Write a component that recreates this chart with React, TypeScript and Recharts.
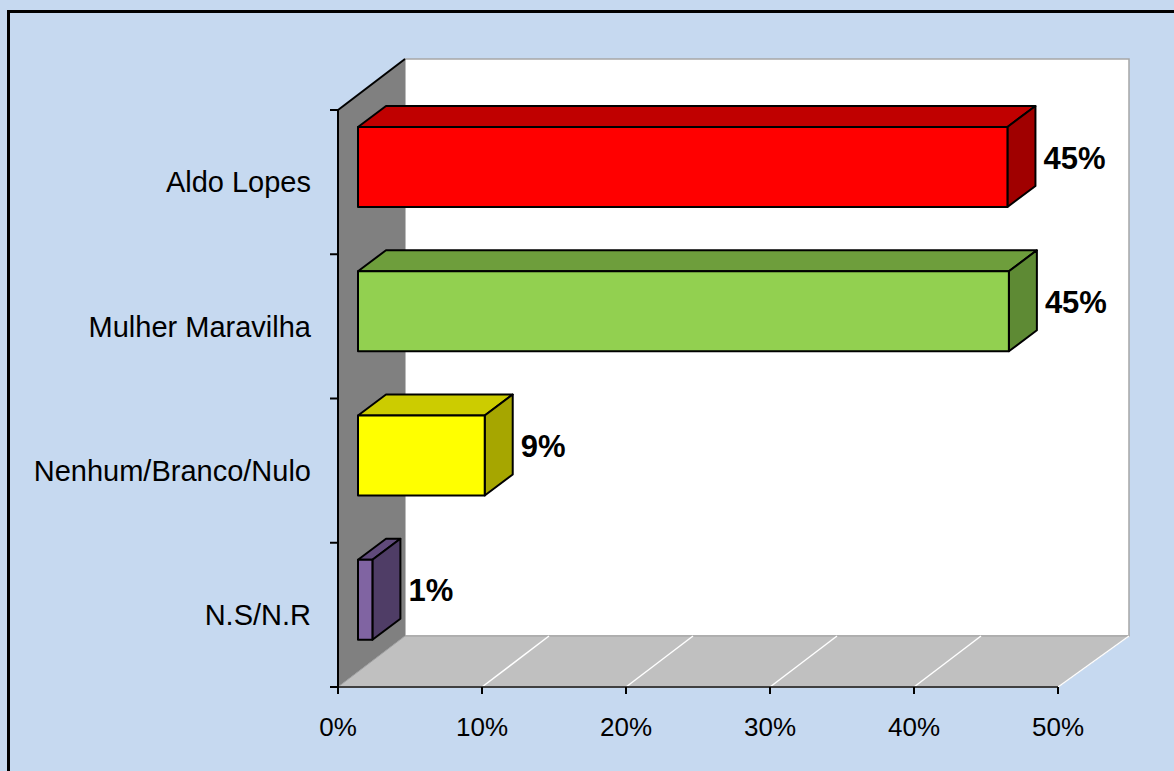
import { BarChart, Bar, XAxis, YAxis, LabelList } from 'recharts'

const categories = ['Aldo Lopes', 'Mulher Maravilha', 'Nenhum/Branco/Nulo', 'N.S/N.R']
const shares = [45.1, 45.2, 8.8, 1.0]
const xTicks = [0, 10, 20, 30, 40, 50]

// front / top / side colours per bar
const faceColors = [
  ['#FF0000', '#C00000', '#A00000'],
  ['#92D050', '#6E9E3C', '#5E8A34'],
  ['#FFFF00', '#CCCC00', '#A6A600'],
  ['#8064A2', '#604A7B', '#4F3D66'],
]

const W = 1174
const H = 771
const PLOT = { left: 338, top: 110, right: 1058, bottom: 687 }
const DEPTH = { dx: 67, dy: -51 } // wall depth
const BAR_FRONT = { dx: 20, dy: -15 }
const BAR_DEPTH = { dx: 28, dy: -21 }
const FONT = '"Liberation Sans", Arial, sans-serif'

const data = categories.map((name, i) => ({ name, value: shares[i] }))

function Box3D(props: any) {
  const { x, y, width, height, index } = props
  const [front, top, side] = faceColors[index % faceColors.length]
  const fx = x + BAR_FRONT.dx
  const fy = y + BAR_FRONT.dy
  const bx = BAR_DEPTH.dx
  const by = BAR_DEPTH.dy
  return (
    <g stroke="#000" strokeWidth={2} strokeLinejoin="round">
      <polygon
        points={`${fx},${fy} ${fx + width},${fy} ${fx + width + bx},${fy + by} ${fx + bx},${fy + by}`}
        fill={top}
      />
      <polygon
        points={`${fx + width},${fy} ${fx + width + bx},${fy + by} ${fx + width + bx},${fy + by + height} ${fx + width},${fy + height}`}
        fill={side}
      />
      <rect x={fx} y={fy} width={width} height={height} fill={front} />
    </g>
  )
}

function ValueLabel(props: any) {
  const { x, y, width, height, value } = props
  const lx = x + BAR_FRONT.dx + width + BAR_DEPTH.dx + 8
  const ly = y + BAR_FRONT.dy + height / 2 - 9
  return (
    <text x={lx} y={ly} fontFamily={FONT} fontWeight="bold" fontSize={31} fill="#000" dominantBaseline="central">
      {`${Math.round(value)}%`}
    </text>
  )
}

function Walls() {
  const { left, top, right, bottom } = PLOT
  const { dx, dy } = DEPTH
  const step = (right - left) / (xTicks.length - 1)
  const band = (bottom - top) / categories.length
  return (
    <svg width={W} height={H} style={{ position: 'absolute', left: 0, top: 0 }}>
      {/* back wall */}
      <rect x={left + dx} y={top + dy} width={right - left + 4} height={bottom - top} fill="#FFFFFF" stroke="#A6A6A6" strokeWidth={1.5} />
      {/* left wall */}
      <polygon
        points={`${left},${top} ${left + dx},${top + dy} ${left + dx},${bottom + dy} ${left},${bottom}`}
        fill="#808080"
      />
      {/* floor */}
      <polygon
        points={`${left},${bottom} ${left + dx},${bottom + dy} ${right + dx + 4},${bottom + dy} ${right},${bottom}`}
        fill="#C0C0C0"
        stroke="#A0A0A0"
        strokeWidth={1}
      />
      {xTicks.slice(1).map((t, i) => (
        <line
          key={t}
          x1={left + step * (i + 1)}
          y1={bottom}
          x2={left + step * (i + 1) + dx + (i === xTicks.length - 2 ? 4 : 0)}
          y2={bottom + dy}
          stroke="#FFFFFF"
          strokeWidth={1.5}
        />
      ))}
      {/* top edge of left wall */}
      <line x1={left} y1={top} x2={left + dx} y2={top + dy} stroke="#000" strokeWidth={2} />
      {/* category boundary ticks */}
      {Array.from({ length: categories.length + 1 }).map((_, i) => (
        <line key={i} x1={left - 8} y1={top + band * i} x2={left} y2={top + band * i} stroke="#000" strokeWidth={2} />
      ))}
    </svg>
  )
}

export default function App() {
  return (
    <div style={{ position: 'absolute', left: 0, top: 0, width: W, height: H, background: '#C6D9F0', overflow: 'hidden' }}>
      <div
        style={{
          position: 'absolute',
          left: 7,
          top: 10,
          width: W + 20,
          height: H + 20,
          border: '3px solid #000',
          boxSizing: 'border-box',
        }}
      />
      <Walls />
      <div style={{ position: 'absolute', left: 0, top: 0 }}>
        <BarChart
          width={W}
          height={H}
          data={data}
          layout="vertical"
          margin={{ top: PLOT.top, right: W - PLOT.right, bottom: 0, left: 0 }}
          barCategoryGap={0}
        >
          <XAxis
            type="number"
            domain={[0, 50]}
            ticks={xTicks}
            interval={0}
            height={H - PLOT.bottom}
            tickFormatter={(v: number) => `${v}%`}
            axisLine={{ stroke: '#404040', strokeWidth: 2 }}
            tickLine={{ stroke: '#000', strokeWidth: 2 }}
            tickSize={7}
            tickMargin={24}
            tick={{ fill: '#000', fontSize: 26, fontFamily: FONT }}
          />
          <YAxis
            type="category"
            dataKey="name"
            width={PLOT.left}
            axisLine={{ stroke: '#000', strokeWidth: 2 }}
            tickLine={false}
            tickSize={0}
            tickMargin={27}
            tick={{ fill: '#000', fontSize: 29, fontFamily: FONT }}
          />
          <Bar dataKey="value" barSize={80} shape={<Box3D />} isAnimationActive={false}>
            <LabelList dataKey="value" content={<ValueLabel />} />
          </Bar>
        </BarChart>
      </div>
    </div>
  )
}
